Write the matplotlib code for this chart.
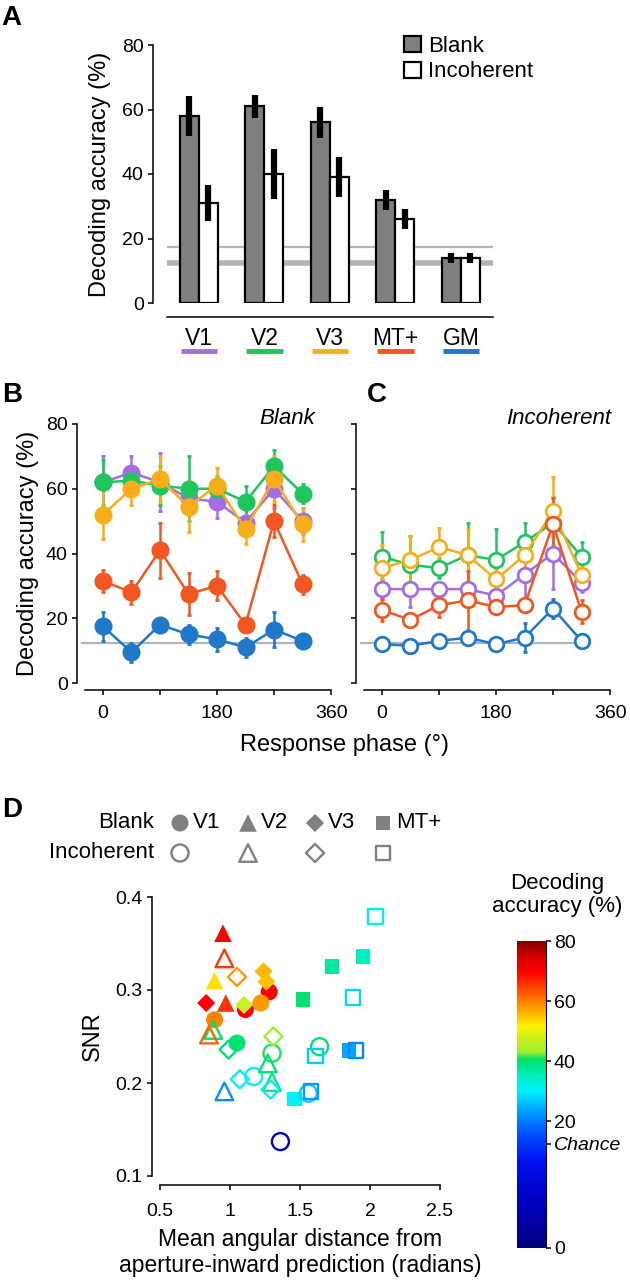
import numpy as np
import matplotlib
matplotlib.use('Agg')
import matplotlib.pyplot as plt
import matplotlib.transforms as mtransforms
from matplotlib.colors import LinearSegmentedColormap
from matplotlib.patches import Patch

plt.rcParams['font.family'] = ['Liberation Sans', 'DejaVu Sans']

# ---------------- data ----------------
regions = ['V1', 'V2', 'V3', 'MT+', 'GM']
region_colors = ['#a56de2', '#1fc660', '#f7ae1a', '#f25722', '#1f78c8']

# panel A: mean decoding accuracy (%)
blank_acc = [58, 61, 56, 32, 14]
blank_err = [6.2, 3.6, 4.8, 3.1, 1.5]
incoh_acc = [31, 40, 39, 26, 14]
incoh_err = [5.6, 7.6, 6.2, 3.0, 1.5]
chance = 12.5
threshold = 17.5

# panels B/C: accuracy per response phase
phase = [0, 45, 90, 135, 180, 225, 270, 315]
blank_phase = {
    'V1': [62, 65, 62, 57, 56, 49.5, 60, 50],
    'V2': [62, 62.5, 61, 60, 60, 56, 67, 58.5],
    'V3': [52, 60, 63, 54.5, 61, 47.5, 63, 49],
    'MT+': [31.5, 28, 41, 27.5, 30, 18, 50, 30.5],
    'GM': [17.5, 9.5, 18, 15, 13.5, 11, 16.5, 13],
}
blank_phase_err = {
    'V1': [8, 5, 9, 5, 5, 4, 6, 4],
    'V2': [7, 4, 6, 10, 4, 5, 5, 3],
    'V3': [7.5, 5, 7, 8, 5.5, 4.5, 7, 5],
    'MT+': [3.5, 3.5, 8.5, 6.5, 4.5, 1, 5, 3],
    'GM': [4.5, 3, 1, 3, 3.5, 3, 5.5, 1],
}
incoh_phase = {
    'V1': [29, 29, 29, 29, 27, 33.5, 40, 31],
    'V2': [39, 36.5, 35.5, 39.5, 38, 43.5, 49.5, 39],
    'V3': [35.5, 38, 42, 39.5, 32, 39.5, 53, 33.5],
    'MT+': [22.5, 19.5, 24, 25.5, 23.5, 24, 49, 22],
    'GM': [12, 11.5, 13, 14, 12, 14, 23, 13],
}
incoh_phase_err = {
    'V1': [3, 5.5, 2, 2, 2.5, 9, 11, 3],
    'V2': [7.5, 9, 3, 10, 9.5, 6, 8, 4.5],
    'V3': [7, 7.5, 6, 8, 3, 4, 10.5, 4],
    'MT+': [3.5, 1, 3.5, 9, 2, 2, 8, 3.5],
    'GM': [1, 1, 1, 1, 1, 4.5, 3, 1],
}

# panel D: angular distance (rad), SNR, decoding accuracy (%)
circ_blank_x = [1.28, 1.11, 1.22, 0.89, 1.05]
circ_blank_y = [0.298, 0.279, 0.286, 0.268, 0.243]
circ_blank_acc = [70, 70, 58, 60, 40]
circ_incoh_x = [1.64, 1.30, 1.17, 1.56, 1.36]
circ_incoh_y = [0.239, 0.232, 0.207, 0.189, 0.137]
circ_incoh_acc = [40, 41, 30, 27, 7]
tri_blank_x = [0.95, 0.89, 0.97]
tri_blank_y = [0.361, 0.310, 0.286]
tri_blank_acc = [70, 53, 66]
tri_incoh_x = [0.96, 0.88, 0.85, 1.27, 1.30, 0.96]
tri_incoh_y = [0.334, 0.257, 0.252, 0.221, 0.201, 0.191]
tri_incoh_acc = [65, 40, 62, 40, 38, 22]
dia_blank_x = [0.83, 1.10, 1.24, 1.26]
dia_blank_y = [0.286, 0.284, 0.320, 0.309]
dia_blank_acc = [70, 47, 56, 55]
dia_incoh_x = [1.05, 1.31, 0.99, 1.07, 1.29]
dia_incoh_y = [0.314, 0.250, 0.236, 0.204, 0.193]
dia_incoh_acc = [58, 43, 40, 30, 31]
sq_blank_x = [1.52, 1.73, 1.95, 1.46, 1.85]
sq_blank_y = [0.290, 0.325, 0.336, 0.183, 0.235]
sq_blank_acc = [40, 37, 35, 30, 24]
sq_incoh_x = [2.04, 1.88, 1.61, 1.58, 1.90]
sq_incoh_y = [0.379, 0.292, 0.229, 0.191, 0.235]
sq_incoh_acc = [32, 28, 27, 23, 21]

# colour scale (bar fraction -> colour), linear above chance
cmap = LinearSegmentedColormap.from_list('acc', [
    (0.0, '#00007f'), (0.15, '#0000c0'), (0.28, '#0010f0'), (0.36, '#0048ff'),
    (0.41, '#0078ff'), (0.46, '#00b0ff'), (0.51, '#00f0ff'), (0.56, '#00f0c0'),
    (0.615, '#00e068'), (0.64, '#a0f030'), (0.68, '#c8f020'), (0.725, '#fff000'),
    (0.775, '#ffa800'), (0.84, '#ff5000'), (0.90, '#ff0000'), (0.955, '#d00000'),
    (1.0, '#800000')])
chance_frac = 0.339


def acc_frac(v):
    return np.interp(v, [0, chance, 80], [0, chance_frac, 1])


# ---------------- figure ----------------
W, H = 630, 1280
fig = plt.figure(figsize=(6.3, 12.8), dpi=100)


def px_axes(l, t, r, b):
    return fig.add_axes([l / W, 1 - b / H, (r - l) / W, (b - t) / H])


lay = fig.add_axes([0, 0, 1, 1])
lay.set_xlim(0, W)
lay.set_ylim(H, 0)
lay.axis('off')

SP = 1.1   # spine width
TL = 3.6   # tick length


def style(ax):
    for s in ['top', 'right']:
        ax.spines[s].set_visible(False)
    for s in ['left', 'bottom']:
        ax.spines[s].set_linewidth(SP)
    ax.tick_params(width=SP, length=TL, labelsize=14, pad=3)


# ---- Panel A ----
ax = px_axes(153, 45, 497, 303)
style(ax)
x = np.arange(len(regions))
bw = 0.29
ax.hlines(chance, -0.49, 4.49, color='#b4b4b4', lw=4, zorder=1)
ax.hlines(threshold, -0.49, 4.49, color='#b4b4b4', lw=1.6, zorder=1)
ax.bar(x - bw / 2, blank_acc, bw, color='#808080', edgecolor='k', lw=1.6, zorder=3)
ax.bar(x + bw / 2, incoh_acc, bw, color='white', edgecolor='k', lw=1.6, zorder=3)
ax.errorbar(x - bw / 2, blank_acc, yerr=blank_err, fmt='none', ecolor='k',
            elinewidth=4.5, capsize=0, zorder=4)
ax.errorbar(x + bw / 2, incoh_acc, yerr=incoh_err, fmt='none', ecolor='k',
            elinewidth=4.5, capsize=0, zorder=4)
ax.set_xlim(-0.702, 4.55)
ax.set_ylim(0, 80)
ax.set_yticks([0, 20, 40, 60, 80])
ax.spines['bottom'].set_position(('outward', 10))
ax.spines['bottom'].set_bounds(-0.49, 4.49)
ax.set_xticks(x, regions)
ax.tick_params(axis='x', length=0, labelsize=16.5, pad=7)
ax.set_ylabel('Decoding accuracy (%)', fontsize=17, labelpad=8)
trans = mtransforms.blended_transform_factory(ax.transData, ax.transAxes)
for xi, c in zip(x, region_colors):
    ax.plot([xi - 0.28, xi + 0.28], [-0.186, -0.186], color=c, lw=3.5,
            transform=trans, clip_on=False, solid_capstyle='butt')
ax.legend(handles=[Patch(facecolor='#808080', edgecolor='k', lw=1.6, label='Blank'),
                   Patch(facecolor='white', edgecolor='k', lw=1.6, label='Incoherent')],
          loc='upper left', bbox_to_anchor=(404 / W, 1 - 36 / H),
          bbox_transform=fig.transFigure, frameon=False, fontsize=16,
          handlelength=0.75, handleheight=0.75, handletextpad=0.35,
          labelspacing=0.2, borderpad=0, borderaxespad=0)


# ---- Panels B and C ----
def phase_panel(ax, vals, errs, filled):
    style(ax)
    ax.hlines(chance, -35, 330, color='#b4b4b4', lw=1.6, zorder=1)
    for r, c in zip(regions, region_colors):
        ax.errorbar(phase, vals[r], yerr=errs[r], color=c, lw=1.8, marker='o',
                    ms=11 if filled else 10.5, mfc=c if filled else 'white',
                    mec=c, mew=2, elinewidth=1.8, capsize=1.5, capthick=1.8,
                    clip_on=False, zorder=3)
    ax.set_xlim(-41, 382)
    ax.set_ylim(0, 80)
    ax.set_yticks([0, 20, 40, 60, 80])
    ax.set_xticks([0, 90, 180, 270, 360], ['0', '', '180', '', '360'])
    ax.tick_params(axis='x', pad=7)
    ax.spines['bottom'].set_position(('outward', 5))
    ax.spines['bottom'].set_bounds(-29, 360)


axB = px_axes(77, 424, 345, 683)
phase_panel(axB, blank_phase, blank_phase_err, True)
axB.set_ylabel('Decoding accuracy (%)', fontsize=17, labelpad=5)
axC = px_axes(356, 424, 624, 683)
phase_panel(axC, incoh_phase, incoh_phase_err, False)
axC.set_yticklabels([])

# ---- Panel D ----
axD = px_axes(160, 897, 440, 1176)
style(axD)
groups = [
    ('o', circ_blank_x, circ_blank_y, circ_blank_acc, True, 150),
    ('^', tri_blank_x, tri_blank_y, tri_blank_acc, True, 160),
    ('D', dia_blank_x, dia_blank_y, dia_blank_acc, True, 85),
    ('s', sq_blank_x, sq_blank_y, sq_blank_acc, True, 110),
    ('o', circ_incoh_x, circ_incoh_y, circ_incoh_acc, False, 150),
    ('^', tri_incoh_x, tri_incoh_y, tri_incoh_acc, False, 160),
    ('D', dia_incoh_x, dia_incoh_y, dia_incoh_acc, False, 85),
    ('s', sq_incoh_x, sq_incoh_y, sq_incoh_acc, False, 110),
]
for m, gx, gy, gacc, filled, s in groups:
    cols = cmap(acc_frac(np.array(gacc)))
    if filled:
        axD.scatter(gx, gy, s=s, marker=m, c=cols, edgecolors='none',
                    clip_on=False, zorder=3)
    else:
        axD.scatter(gx, gy, s=s, marker=m, facecolors='none', edgecolors=cols,
                    linewidths=1.7, clip_on=False, zorder=4)
axD.set_xlim(0.5, 2.5)
axD.set_ylim(0.1, 0.4)
axD.set_xticks([0.5, 1, 1.5, 2, 2.5], ['0.5', '1', '1.5', '2', '2.5'])
axD.set_yticks([0.1, 0.2, 0.3, 0.4], ['0.1', '0.2', '0.3', '0.4'])
axD.tick_params(axis='x', pad=9)
axD.spines['left'].set_position(('outward', 6))
axD.spines['bottom'].set_position(('outward', 6.5))
axD.set_ylabel('SNR', fontsize=17, labelpad=8)
axD.set_xlabel('Mean angular distance from\naperture-inward prediction (radians)',
               fontsize=16.5, labelpad=6, linespacing=1.2)

# colour bar
cax = px_axes(517, 941, 546, 1248)
grad = np.linspace(0, 1, 256).reshape(-1, 1)
cax.imshow(grad, cmap=cmap, aspect='auto', origin='lower', extent=[0, 1, 0, 1])
for s in ['top', 'left', 'bottom']:
    cax.spines[s].set_visible(False)
cax.spines['right'].set_linewidth(0.8)
cax.set_xticks([])
cb_ticks = [0, chance, 20, 40, 60, 80]
cax.yaxis.tick_right()
cax.set_yticks(acc_frac(np.array(cb_ticks)), ['0', 'Chance', '20', '40', '60', '80'])
cax.tick_params(axis='y', width=SP, length=TL, labelsize=14, pad=2)
cax.get_yticklabels()[1].set_fontstyle('italic')

# ---- text overlay ----
for lbl, px, py in [('A', 1, 18), ('B', 2, 395), ('C', 367, 395), ('D', 2, 810)]:
    lay.text(px, py, lbl, fontsize=20, fontweight='bold', ha='left', va='center')
lay.text(315, 419, 'Blank', fontsize=16, style='italic', ha='right', va='center')
lay.text(611, 419, 'Incoherent', fontsize=16, style='italic', ha='right', va='center')
lay.text(345, 745, 'Response phase (°)', fontsize=17, ha='center', va='center')
lay.text(557, 895, 'Decoding\naccuracy (%)', fontsize=16, ha='center', va='center',
         linespacing=1.15)

# panel D legend
lay.text(154, 823, 'Blank', fontsize=16, ha='right', va='center')
lay.text(154, 853, 'Incoherent', fontsize=16, ha='right', va='center')
for (m, s), mx, lab in zip([('o', 150), ('^', 160), ('D', 85), ('s', 110)],
                           [180, 248, 315, 383], ['V1', 'V2', 'V3', 'MT+']):
    lay.scatter([mx], [823], s=s, marker=m, color='#808080', edgecolors='none')
    lay.scatter([mx], [853], s=s, marker=m, facecolors='none',
                edgecolors='#808080', linewidths=1.7)
    lay.text(mx + 13, 823, lab, fontsize=16, ha='left', va='center')

fig.savefig('out.png', dpi=100, facecolor='white')
